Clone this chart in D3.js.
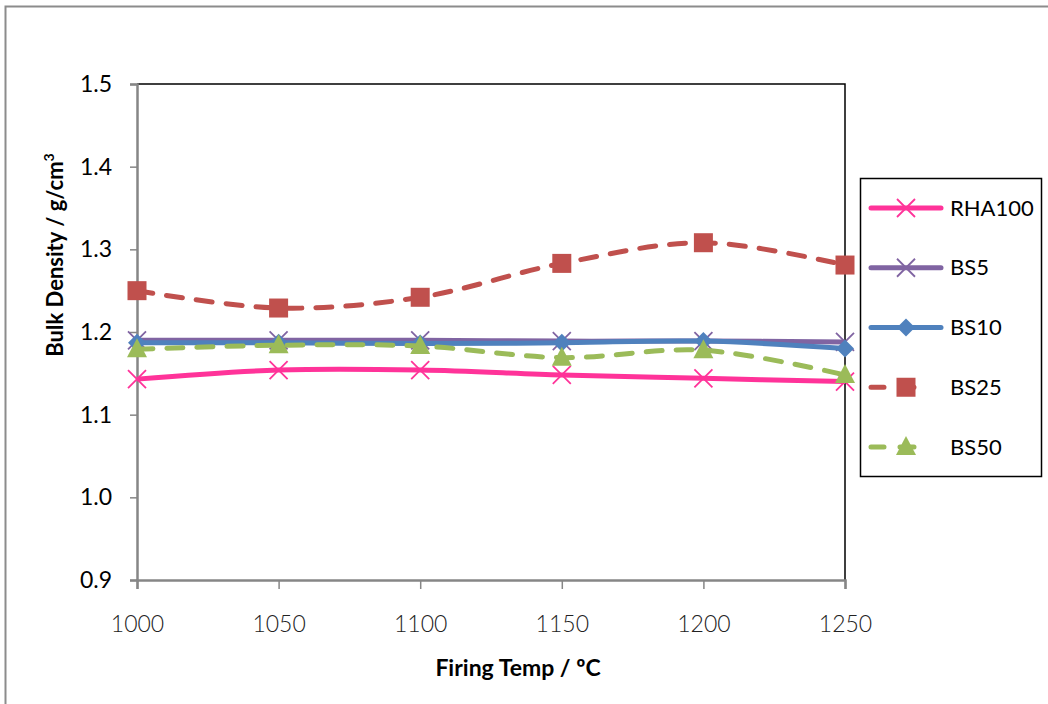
<!DOCTYPE html>
<html>
<head>
<meta charset="utf-8">
<script src="https://cdn.jsdelivr.net/npm/d3@7"></script>
<style>
  body { margin: 0; background: #fff; }
  svg { display: block; font-family: Lato, "Open Sans", sans-serif; }
</style>
</head>
<body>
<svg id="chart" width="1048" height="704"></svg>
<script>
// firing temperatures (x categories)
var temps = [1000, 1050, 1100, 1150, 1200, 1250];

// bulk density values, g/cm3
var rha100 = [1.143, 1.154, 1.154, 1.148, 1.144, 1.140];
var bs5    = [1.190, 1.190, 1.190, 1.189, 1.189, 1.188];
var bs10   = [1.187, 1.187, 1.186, 1.187, 1.189, 1.180];
var bs25   = [1.250, 1.229, 1.242, 1.283, 1.308, 1.281];
var bs50   = [1.179, 1.184, 1.183, 1.169, 1.178, 1.148];

var yTicks = [0.9, 1.0, 1.1, 1.2, 1.3, 1.4, 1.5];

var series = [
  { name: 'RHA100', values: rha100, color: '#ff3399', marker: 'x',        dashed: false },
  { name: 'BS5',    values: bs5,    color: '#8064a2', marker: 'x',        dashed: false },
  { name: 'BS10',   values: bs10,   color: '#4f81bd', marker: 'diamond',  dashed: false },
  { name: 'BS25',   values: bs25,   color: '#c0504d', marker: 'square',   dashed: true },
  { name: 'BS50',   values: bs50,   color: '#9bbb59', marker: 'triangle', dashed: true }
];

var svg = d3.select('#chart');

// outer chart frame
svg.append('rect')
  .attr('x', 5.5).attr('y', 6.5)
  .attr('width', 1100).attr('height', 800)
  .attr('fill', 'none')
  .attr('stroke', '#8c8c8c')
  .attr('stroke-width', 2);

var x = d3.scaleLinear().domain([1000, 1250]).range([137, 845]);
var y = d3.scaleLinear().domain([0.9, 1.5]).range([580, 84]);

// plot area border (top + right black)
svg.append('path')
  .attr('d', 'M' + x(1000) + ',' + y(1.5) + 'H' + x(1250) + 'V' + y(0.9))
  .attr('fill', 'none')
  .attr('stroke', '#000')
  .attr('stroke-width', 1.5);

// y axis
var yAxis = svg.append('g')
  .attr('transform', 'translate(' + x(1000) + ',0)')
  .call(d3.axisLeft(y).tickValues(yTicks).tickFormat(d3.format('.1f')).tickSize(7).tickPadding(18));
yAxis.select('.domain').attr('stroke', '#868686').attr('stroke-width', 2.5);
yAxis.selectAll('.tick line').attr('stroke', '#868686').attr('stroke-width', 1.5);
yAxis.selectAll('.tick text')
  .attr('font-size', 23).attr('fill', '#000').attr('font-family', 'Lato, sans-serif');

// x axis
var xAxis = svg.append('g')
  .attr('transform', 'translate(0,' + y(0.9) + ')')
  .call(d3.axisBottom(x).tickValues(temps).tickFormat(d3.format('d')).tickSize(9).tickPadding(27));
xAxis.select('.domain').attr('stroke', '#868686').attr('stroke-width', 2.5);
xAxis.selectAll('.tick line').attr('stroke', '#868686').attr('stroke-width', 1.5);
xAxis.selectAll('.tick text')
  .attr('font-size', 23).attr('fill', '#222').attr('font-weight', 300)
  .attr('font-family', 'Lato, sans-serif');

// axis titles
svg.append('text')
  .attr('transform', 'translate(63,255) rotate(-90)')
  .attr('text-anchor', 'middle')
  .attr('font-size', 22).attr('font-weight', 'bold')
  .html('Bulk Density / g/cm<tspan dy="-9" font-size="14">3</tspan>');

svg.append('text')
  .attr('x', 518).attr('y', 676)
  .attr('text-anchor', 'middle')
  .attr('font-size', 23).attr('font-weight', 'bold')
  .text('Firing Temp / \u00baC');

// lines
var line = d3.line()
  .x(function (d, i) { return x(temps[i]); })
  .y(function (d) { return y(d); })
  .curve(d3.curveCatmullRom.alpha(0.5));

function drawMarker(g, type, color) {
  if (type === 'x') {
    g.append('path').attr('d', 'M-9,-9L9,9M-9,9L9,-9')
      .attr('stroke', color).attr('stroke-width', 1.8).attr('fill', 'none');
  } else if (type === 'diamond') {
    g.append('path').attr('d', 'M0,-9L9,0L0,9L-9,0Z').attr('fill', color);
  } else if (type === 'square') {
    g.append('rect').attr('x', -9.5).attr('y', -9.5).attr('width', 19).attr('height', 19).attr('fill', color);
  } else if (type === 'triangle') {
    g.append('path').attr('d', 'M0,-11L10,8L-10,8Z').attr('fill', color);
  }
}

series.forEach(function (s) {
  svg.append('path')
    .datum(s.values)
    .attr('d', line)
    .attr('fill', 'none')
    .attr('stroke', s.color)
    .attr('stroke-width', 5)
    .attr('stroke-linecap', s.dashed ? 'round' : 'butt')
    .attr('stroke-dasharray', s.dashed ? '16,14' : null);

  s.values.forEach(function (v, i) {
    var g = svg.append('g').attr('transform', 'translate(' + x(temps[i]) + ',' + y(v) + ')');
    drawMarker(g, s.marker, s.color);
  });
});

// legend
var legend = svg.append('g');
legend.append('rect')
  .attr('x', 860.5).attr('y', 178.5)
  .attr('width', 181).attr('height', 298)
  .attr('fill', '#fff').attr('stroke', '#000').attr('stroke-width', 1.5);

var ly = d3.scalePoint().domain(series.map(function (s) { return s.name; })).range([208, 447]);

series.forEach(function (s) {
  var row = legend.append('g').attr('transform', 'translate(0,' + ly(s.name) + ')');
  if (s.dashed) {
    row.append('path').attr('d', 'M871,0H884M900,0H914')
      .attr('stroke', s.color).attr('stroke-width', 5).attr('stroke-linecap', 'round');
  } else {
    row.append('line').attr('x1', 871).attr('x2', 941)
      .attr('stroke', s.color).attr('stroke-width', 5).attr('stroke-linecap', 'round');
  }
  var mg = row.append('g').attr('transform', 'translate(906,0)');
  drawMarker(mg, s.marker, s.color);
  row.append('text')
    .attr('x', 950).attr('y', 0).attr('dy', '0.35em')
    .attr('font-size', 22)
    .text(s.name);
});
</script>
</body>
</html>
